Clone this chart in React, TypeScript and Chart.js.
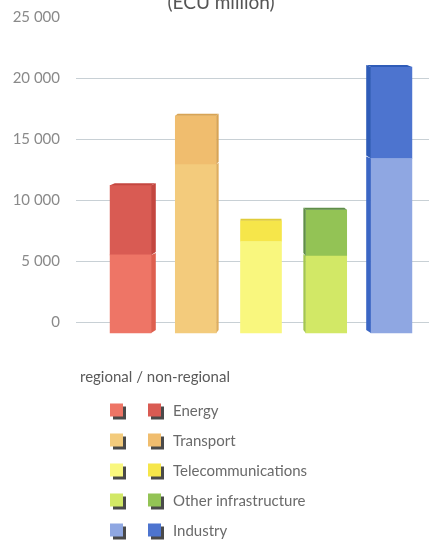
import { useEffect, useRef } from "react";
import { Chart, registerables } from "chart.js";

Chart.register(...registerables);

// Loans by sector, split into regional and non-regional shares (ECU million)
const categories = ["Energy", "Transport", "Telecommunications", "Other infrastructure", "Industry"];
const regional = [5500, 12900, 6600, 5400, 13400];
const nonRegional = [5700, 4000, 1700, 3800, 7500];
const yTicks = [0, 5000, 10000, 15000, 20000, 25000];
const gridValues = [0, 5000, 10000, 15000, 20000];

const regionalColors = ["#ee7566", "#f3cb7c", "#f9f77e", "#d2e866", "#8fa7e2"];
const nonRegionalColors = ["#d95b53", "#f0bd6e", "#f6e64a", "#93c355", "#4d74cf"];
const regionalSideColors = ["#de5f4f", "#dfae5e", "#e6e060", "#a4c650", "#3b66c4"];
const nonRegionalSideColors = ["#c4463f", "#d8a455", "#e0cc3a", "#5f8e48", "#2f5cb8"];

const TITLE = "(ECU million)";
const LEGEND_HEADER = "regional / non-regional";
const FONT = "Lato, 'DejaVu Sans', sans-serif";

// Bars stand on a floor slightly in front of (below) the zero line of the back wall
const FLOOR_VALUE = -900;

const fmt = (v: number) => String(v).replace(/\B(?=(\d{3})+(?!\d))/g, " ");

const backWallGrid = {
  id: "backWallGrid",
  beforeDatasetsDraw(chart: any) {
    const { ctx, scales } = chart;
    ctx.save();
    ctx.strokeStyle = "#c8d0d5";
    ctx.lineWidth = 1;
    for (const v of gridValues) {
      const y = Math.round(scales.y.getPixelForValue(v)) + 0.5;
      ctx.beginPath();
      ctx.moveTo(76, y);
      ctx.lineTo(chart.width, y);
      ctx.stroke();
    }
    ctx.restore();
  },
};

const barDepth = {
  id: "barDepth",
  afterDatasetsDraw(chart: any) {
    const { ctx } = chart;
    const low = chart.getDatasetMeta(0).data;
    const high = chart.getDatasetMeta(1).data;
    const centre = (chart.chartArea.left + chart.chartArea.right) / 2;
    ctx.save();
    for (let i = 0; i < low.length; i++) {
      const a = low[i].getProps(["x", "y", "base", "width"], true);
      const b = high[i].getProps(["x", "y", "base", "width"], true);
      const left = a.x - a.width / 2;
      const right = a.x + a.width / 2;
      const dx = (centre - a.x) * 0.036;
      const dy = -2;
      const edge = dx >= 0 ? right : left;
      const seg = (top: number, bottom: number, color: string) => {
        if (Math.abs(dx) < 0.6) return;
        ctx.fillStyle = color;
        ctx.beginPath();
        ctx.moveTo(edge, top);
        ctx.lineTo(edge + dx, top + dy);
        ctx.lineTo(edge + dx, bottom + dy - 1);
        ctx.lineTo(edge, bottom);
        ctx.closePath();
        ctx.fill();
      };
      seg(a.y, a.base, regionalSideColors[i]);
      seg(b.y, b.base, nonRegionalSideColors[i]);
      // top face
      ctx.fillStyle = nonRegionalSideColors[i];
      ctx.beginPath();
      ctx.moveTo(left, b.y);
      ctx.lineTo(left + dx, b.y + dy);
      ctx.lineTo(right + dx, b.y + dy);
      ctx.lineTo(right, b.y);
      ctx.closePath();
      ctx.fill();
    }
    ctx.restore();
  },
};

const titleAndLegend = {
  id: "titleAndLegend",
  afterDraw(chart: any) {
    const { ctx } = chart;
    ctx.save();
    ctx.fillStyle = "#555";
    ctx.font = `19px ${FONT}`;
    ctx.textAlign = "center";
    ctx.textBaseline = "alphabetic";
    ctx.fillText(TITLE, 221, 9);

    ctx.textAlign = "left";
    ctx.font = `15px ${FONT}`;
    ctx.fillStyle = "#5a5a5a";
    ctx.fillText(LEGEND_HEADER, 80, 382);

    const box = 13;
    categories.forEach((name, i) => {
      const cy = 410 + i * 30;
      const pairs: [number, string][] = [
        [110, regionalColors[i]],
        [148, nonRegionalColors[i]],
      ];
      for (const [x, color] of pairs) {
        ctx.fillStyle = "#4a4a4a";
        ctx.fillRect(x + 3, cy - box / 2 + 3, box, box);
        ctx.fillStyle = color;
        ctx.fillRect(x, cy - box / 2, box, box);
      }
      ctx.fillStyle = "#6a6a6a";
      ctx.font = `15px ${FONT}`;
      ctx.textBaseline = "middle";
      ctx.fillText(name, 173, cy + 1);
    });
    ctx.restore();
  },
};

export default function App() {
  const ref = useRef<HTMLCanvasElement>(null);

  useEffect(() => {
    if (!ref.current) return;
    const chart = new Chart(ref.current, {
      type: "bar",
      data: {
        labels: categories,
        datasets: [
          {
            label: "regional",
            data: regional,
            backgroundColor: regionalColors,
            base: FLOOR_VALUE,
            clip: false,
            barThickness: 41,
            borderWidth: 0,
          } as any,
          {
            label: "non-regional",
            data: nonRegional,
            backgroundColor: nonRegionalColors,
            clip: false,
            barThickness: 41,
            borderWidth: 0,
          } as any,
        ],
      },
      options: {
        responsive: false,
        animation: false,
        layout: { padding: { top: 17, right: 5, bottom: 218, left: 0 } },
        plugins: { legend: { display: false }, tooltip: { enabled: false }, title: { display: false } },
        scales: {
          x: { stacked: true, display: false },
          y: {
            stacked: true,
            min: 0,
            max: 25000,
            afterBuildTicks: (scale: any) => {
              scale.ticks = yTicks.map((v) => ({ value: v }));
            },
            afterFit: (scale: any) => {
              scale.width = 98;
              scale.paddingTop = 0;
              scale.paddingBottom = 0;
            },
            grid: { display: false, drawTicks: false },
            border: { display: false },
            ticks: {
              padding: 38,
              color: "#8a8a8a",
              font: { family: FONT, size: 15 },
              callback: (v: any) => fmt(Number(v)),
            },
          },
        },
      },
      plugins: [backWallGrid, barDepth, titleAndLegend],
    });
    return () => chart.destroy();
  }, []);

  return (
    <div style={{ position: "absolute", left: 0, top: 0, width: 429, height: 540, background: "#fff" }}>
      <canvas ref={ref} width={429} height={540} />
    </div>
  );
}
